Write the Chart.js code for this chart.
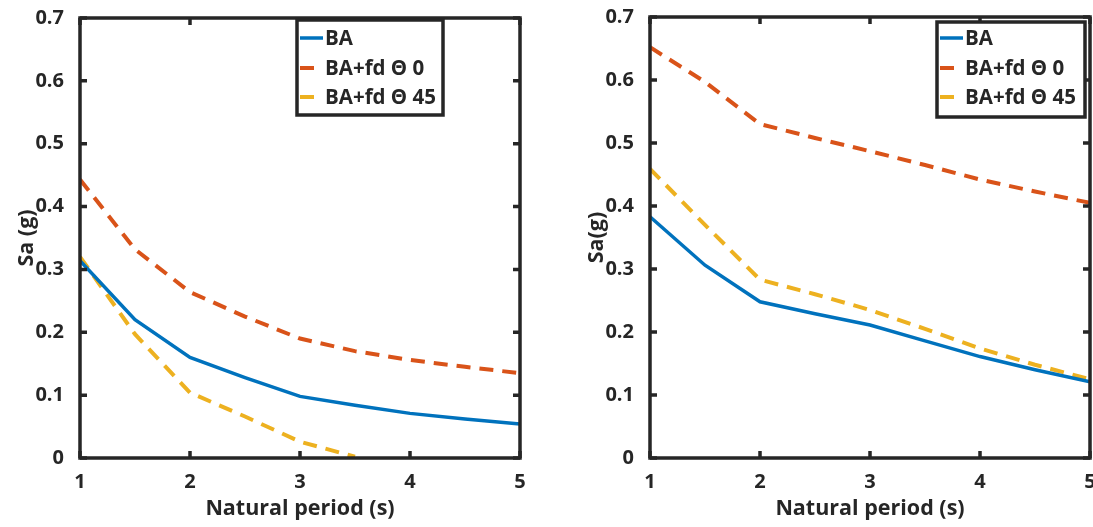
<!DOCTYPE html>
<html>
<head>
<meta charset="utf-8">
<script src="https://cdn.jsdelivr.net/npm/chart.js@4.4.1/dist/chart.umd.min.js"></script>
<style>
  html, body { margin: 0; padding: 0; background: #fff; }
  #wrapLeft { position: absolute; left: 0; top: 0; width: 546px; height: 527px; }
  #wrapRight { position: absolute; left: 570px; top: 0; width: 523px; height: 527px; }
</style>
</head>
<body>
<div id="wrapLeft"><canvas id="chartLeft"></canvas></div>
<div id="wrapRight"><canvas id="chartRight"></canvas></div>
<script>
// natural periods (s) where the spectra were sampled
const periods = [1, 1.5, 2, 2.5, 3, 3.5, 4, 4.5, 5];
const xTicks = [1, 2, 3, 4, 5];
const yTicks = [0, 0.1, 0.2, 0.3, 0.4, 0.5, 0.6, 0.7];
const seriesNames = ['BA', 'BA+fd \u0398 0', 'BA+fd \u0398 45'];

// left panel, Sa (g)
const baLeft = [0.314, 0.220, 0.160, 0.128, 0.098, 0.084, 0.071, 0.062, 0.054];
const fd0Left = [0.443, 0.332, 0.264, 0.225, 0.190, 0.170, 0.156, 0.145, 0.135];
const fd45Left = [0.320, 0.197, 0.104, 0.066, 0.026, 0.002, null, null, null];

// right panel, Sa(g)
const baRight = [0.383, 0.306, 0.248, 0.229, 0.211, 0.186, 0.161, 0.140, 0.121];
const fd0Right = [0.652, 0.597, 0.530, 0.508, 0.487, 0.465, 0.442, 0.423, 0.405];
const fd45Right = [0.459, 0.370, 0.283, 0.260, 0.235, 0.205, 0.174, 0.148, 0.125];

const INK = '#262626';
const BLUE = '#0072BD';
const ORANGE = '#D95319';
const YELLOW = '#EDB120';

Chart.defaults.font.family = "'Open Sans', sans-serif";
Chart.defaults.font.weight = 'bold';
Chart.defaults.color = INK;

const toPoints = vals => periods.map((p, i) => ({ x: p, y: vals[i] }));

// box around the plot area with inward ticks on every side
const frameBox = {
    id: 'frameBox',
    afterDatasetsDraw(chart) {
        const { ctx, chartArea: a, scales: { x, y } } = chart;
        ctx.save();
        ctx.strokeStyle = INK;
        ctx.lineWidth = 3.5;
        ctx.beginPath();
        x.ticks.forEach(t => {
            const px = x.getPixelForValue(t.value);
            ctx.moveTo(px, a.bottom); ctx.lineTo(px, a.bottom - 7);
            ctx.moveTo(px, a.top); ctx.lineTo(px, a.top + 7);
        });
        y.ticks.forEach(t => {
            const py = y.getPixelForValue(t.value);
            ctx.moveTo(a.left, py); ctx.lineTo(a.left + 7, py);
            ctx.moveTo(a.right, py); ctx.lineTo(a.right - 7, py);
        });
        ctx.stroke();
        ctx.strokeRect(a.left, a.top, a.right - a.left, a.bottom - a.top);
        ctx.restore();
    }
};

// boxed legend drawn inside the plot area
const boxLegend = {
    id: 'boxLegend',
    afterDraw(chart, args, opts) {
        const { ctx, chartArea: a } = chart;
        const left = a.left + opts.left;
        const top = a.top + opts.top;
        ctx.save();
        ctx.fillStyle = '#fff';
        ctx.fillRect(left, top, opts.width, opts.height);
        ctx.strokeStyle = INK;
        ctx.lineWidth = 3.5;
        ctx.strokeRect(left, top, opts.width, opts.height);
        ctx.font = "bold 20.5px 'Open Sans', sans-serif";
        ctx.textBaseline = 'middle';
        chart.data.datasets.forEach((ds, i) => {
            const rowY = top + opts.rows[i];
            ctx.strokeStyle = ds.borderColor;
            ctx.lineWidth = ds.borderWidth;
            ctx.setLineDash(ds.borderDash || []);
            ctx.beginPath();
            ctx.moveTo(left + 3, rowY);
            ctx.lineTo(left + 26, rowY);
            ctx.stroke();
            ctx.setLineDash([]);
            ctx.fillStyle = INK;
            ctx.fillText(ds.label, left + 28, rowY + 1);
        });
        ctx.restore();
    }
};

function makeChart(id, series, yTitle, pad, legendBox) {
    const colors = [BLUE, ORANGE, YELLOW];
    const dashes = [[], [14, 9], [14, 9]];
    return new Chart(document.getElementById(id), {
        type: 'line',
        data: {
            datasets: series.map((vals, i) => ({
                label: seriesNames[i],
                data: toPoints(vals),
                borderColor: colors[i],
                borderWidth: i === 0 ? 3.5 : 4,
                borderDash: dashes[i],
                pointRadius: 0,
                tension: 0,
                fill: false
            }))
        },
        options: {
            responsive: true,
            maintainAspectRatio: false,
            animation: false,
            layout: { padding: pad },
            plugins: {
                legend: { display: false },
                tooltip: { enabled: false },
                boxLegend: legendBox
            },
            scales: {
                x: {
                    type: 'linear',
                    min: 1,
                    max: 5,
                    afterBuildTicks: s => { s.ticks = xTicks.map(v => ({ value: v })); },
                    afterFit: s => {
                        s.height = 69;
                        // let the last tick label run past the plot edge
                        s.paddingLeft = 0;
                        s.paddingRight = 0;
                    },
                    grid: { display: false },
                    border: { display: false },
                    ticks: { font: { size: 20, weight: 'bold' }, padding: 4, maxRotation: 0 },
                    title: {
                        display: true,
                        text: 'Natural period (s)',
                        font: { size: 21.5, weight: 'bold' },
                        padding: { top: 0, bottom: 5 }
                    }
                },
                y: {
                    min: 0,
                    max: 0.7,
                    afterBuildTicks: s => { s.ticks = yTicks.map(v => ({ value: v })); },
                    afterFit: s => {
                        s.width = 80;
                        s.paddingTop = 0;
                        s.paddingBottom = 0;
                    },
                    grid: { display: false },
                    border: { display: false },
                    ticks: {
                        font: { size: 20, weight: 'bold' },
                        padding: 8,
                        callback: v => (v === 0 ? '0' : v.toFixed(1))
                    },
                    title: {
                        display: true,
                        text: yTitle,
                        font: { size: 21.5, weight: 'bold' },
                        padding: { top: 14, bottom: 0 }
                    }
                }
            }
        },
        plugins: [frameBox, boxLegend]
    });
}

makeChart('chartLeft', [baLeft, fd0Left, fd45Left], 'Sa (g)',
    { top: 18, right: 26, left: 0, bottom: 0 },
    { left: 217, top: 2, width: 146, height: 95, rows: [18, 48, 77] });

makeChart('chartRight', [baRight, fd0Right, fd45Right], 'Sa(g)',
    { top: 17, right: 3, left: 0, bottom: 0 },
    { left: 287, top: 5, width: 148, height: 95, rows: [16, 46, 75] });
</script>
</body>
</html>
